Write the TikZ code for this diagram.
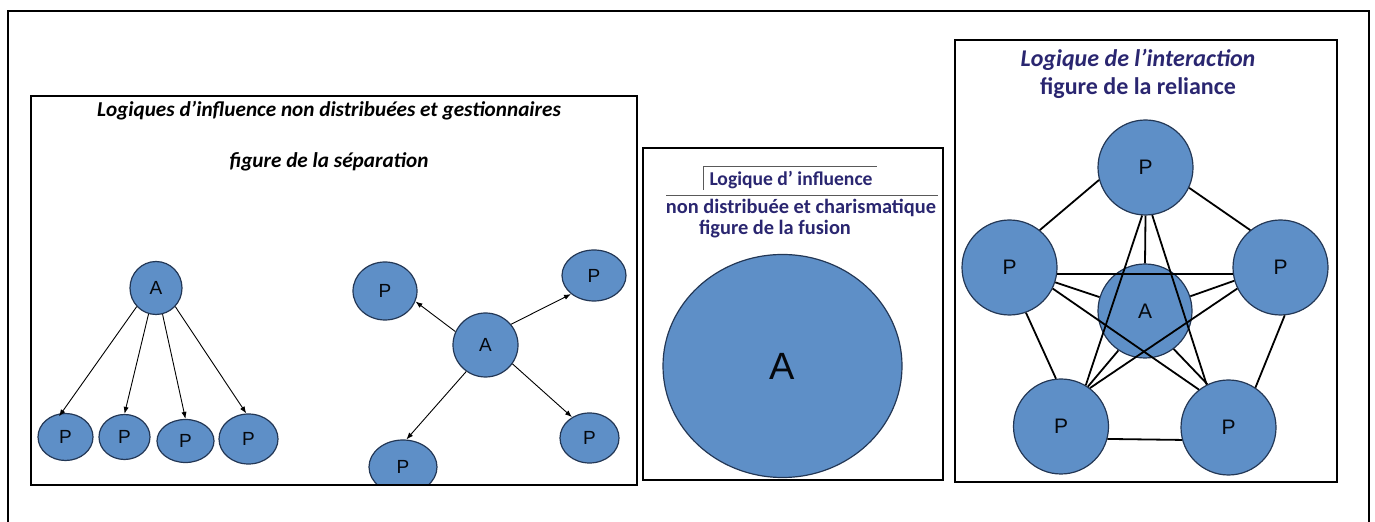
\documentclass[tikz,border=0pt]{standalone}
\usepackage{fontspec}
\setmainfont{Carlito}
\newfontfamily\discfont{Liberation Sans}
\usetikzlibrary{shapes.geometric,arrows.meta}
\definecolor{discfill}{RGB}{94,143,199}
\definecolor{discline}{RGB}{35,55,85}
\definecolor{navytext}{RGB}{42,38,112}
\tikzset{
  disc/.style={ % image of a person (P) or of the agent (A)
    ellipse, draw=discline, fill=discfill, line width=0.6pt,
    inner sep=0pt, text=black!85!discline, font=\discfont\fontsize{9.5}{11}\selectfont
  },
  rdisc/.style={ % disc of the reliance figure
    disc, minimum size=47.5pt, font=\discfont\fontsize{10.5}{12}\selectfont
  },
  panel/.style={ % outline of one of the three figures
    draw, line width=1.4pt
  },
  heading/.style={
    inner sep=0pt, font=\bfseries\fontsize{10.6}{12}\selectfont
  },
  influence/.style={
    -{Latex[length=3.5pt,width=2.6pt]}, line width=0.45pt
  },
  link/.style={
    line width=0.9pt
  }
}

\begin{document}
\begin{tikzpicture}[x=0.5pt, y=-0.5pt]
  \useasboundingbox (0,0) rectangle (1375,522);
  \draw[line width=1pt] (8,522) -- (8,11) -- (1369,11) -- (1369,522);

  % separation
  \begin{scope}
    \clip (31,96) rectangle (637,485);
    \node[heading] (sep_title) at (329,111) {\itshape Logiques d’influence non distribuées et gestionnaires};
    \node[heading] (sep_sub) at (329,162) {\itshape figure de la séparation};

    \node[disc, minimum width=26pt, minimum height=26.5pt] (a1) at (156,288) {A};
    \node[disc, minimum width=27.5pt, minimum height=23.5pt] (p11) at (65.5,437) {P};
    \node[disc, minimum width=25.5pt, minimum height=22.5pt] (p12) at (124.5,437) {P};
    \node[disc, minimum width=28.5pt, minimum height=21.5pt] (p13) at (185.5,441) {P};
    \node[disc, minimum width=29.5pt, minimum height=25pt] (p14) at (248.5,439) {P};
    \draw[influence, shorten >=-2pt] (a1.224) -- (p11.100);
    \draw[influence] (a1.254) -- (p12.90);
    \draw[influence] (a1.284) -- (p13.90);
    \draw[influence] (a1.316) -- (p14.95);

    \node[disc, minimum width=32.5pt, minimum height=32pt] (a2) at (485.5,345) {A};
    \node[disc, minimum width=32pt, minimum height=29pt] (q1) at (385,291) {P};
    \node[disc, minimum width=32pt, minimum height=25.5pt] (q2) at (594,275.5) {P};
    \node[disc, minimum width=29.5pt, minimum height=25pt] (q3) at (589.5,438) {P};
    \node[disc, minimum width=34pt, minimum height=27pt] (q4) at (403,467) {P};
    \draw[influence] (a2.156) -- (q1.341);
    \draw[influence] (a2.39) -- (q2.219);
    \draw[influence] (a2.325) -- (q3.130);
    \draw[influence] (a2.234) -- (q4.83);
  \end{scope}
  \draw[panel] (31,96) rectangle (637,485);

  % fusion
  \draw[panel] (643,148) rectangle (943,480);
  \node[heading, text=navytext, font=\bfseries\fontsize{9.8}{12}\selectfont] (fus_title) at (791,180) {Logique d’ influence};
  \draw[gray!70!black, line width=0.5pt] (703,190) -- (703,167) -- (877,167);
  \draw[gray!70!black, line width=0.5pt] (666,196) -- (938,196);
  \node[heading, text=navytext, font=\bfseries\fontsize{10.2}{12}\selectfont] (fus_sub) at (801,208) {non distribuée et charismatique};
  \node[heading, text=navytext, font=\bfseries\fontsize{10.2}{12}\selectfont] (fus_fig) at (775,229) {figure de la fusion};
  \node[disc, minimum width=119.5pt, minimum height=111.5pt,
        font=\discfont\fontsize{19}{21}\selectfont] (afus) at (782.5,366) {A};

  % reliance
  \draw[panel] (955,40) rectangle (1337,482);
  \node[heading, text=navytext, font=\bfseries\fontsize{12}{14}\selectfont] (rel_title) at (1138,60) {\itshape Logique de l’interaction};
  \node[heading, text=navytext, font=\bfseries\fontsize{12}{14}\selectfont] (rel_sub) at (1138,88) {figure de la reliance};

  \node[rdisc] (top) at (1145.5,167.5) {P};
  \node[rdisc] (left) at (1009.5,267.5) {P};
  \node[rdisc] (right) at (1280.5,267.5) {P};
  \node[rdisc, minimum size=47pt] (ag) at (1145,311) {A};
  \node[rdisc] (botl) at (1061,426.5) {P};
  \node[rdisc] (botr) at (1228.5,427.5) {P};

  \draw[link] (top.195) -- (left.51);
  \draw[link] (top.335) -- (right.129);
  \draw[link] (left.290) -- (botl.96);
  \draw[link] (right.275) -- (botr.56);
  \draw[link] (botl.-15) -- (botr.195);
  \draw[link] (left.352) -- (right.188);
  \draw[link] (top.south) -- (ag.north);
  \draw[link] (top.266) -- (botl.59);
  \draw[link] (top.278) -- (botr.117);
  \draw[link] (left.334) -- (botr.128);
  \draw[link] (right.206) -- (botl.53);
  \draw[link] (left.342) -- (ag.163);
  \draw[link] (right.196) -- (ag.18);
  \draw[link] (botl.56) -- (ag.236);
  \draw[link] (botr.116) -- (ag.307);
\end{tikzpicture}
\end{document}
